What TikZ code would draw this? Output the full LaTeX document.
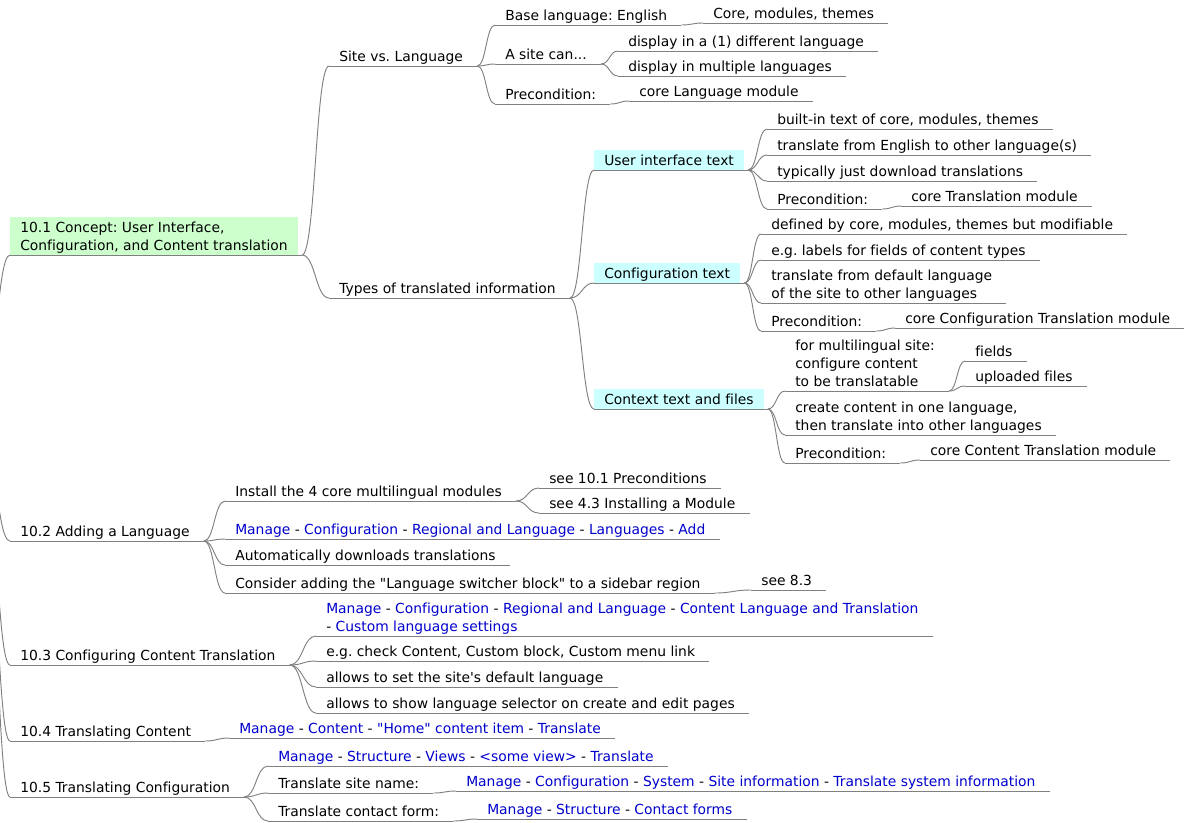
\documentclass[tikz,border=0pt]{standalone}
\usepackage{fontspec}
\setmainfont{DejaVu Sans}[Ligatures=NoCommon]
\frenchspacing
\usetikzlibrary{calc}
\definecolor{linkgray}{RGB}{128,128,128}
\definecolor{conceptgreen}{RGB}{204,255,204}
\definecolor{typecyan}{RGB}{204,255,255}
\definecolor{navblue}{RGB}{0,0,204}
\newcommand{\navlink}[1]{\textcolor{navblue}{#1}}
\tikzset{x=0.75pt, y=-0.75pt, % one unit = one pixel of the mind map
         topic/.style={ % text sitting on its own underline
           anchor=south west, xshift=-7.5pt,
           inner xsep=7.5pt, inner ysep=0.7pt,
           text depth=2.3pt,
           font=\fontsize{10.4pt}{13.5pt}\selectfont},
         multi/.style={align=left, text depth=},
         concept/.style={fill=conceptgreen},
         kind/.style={fill=typecyan, text height=11pt},
         stem/.style={draw=linkgray, line width=0.7pt},
         fork/.style={to path={let \p1=([xshift=3pt]\tikztostart), \p2=(\tikztotarget) in
           (\p1) .. controls ({(\x1+\x2)/2},\y1) and ({(\x1+\x2)/2},\y2) .. (\p2)}}}

\begin{document}
\begin{tikzpicture}
\useasboundingbox (0,0) rectangle (1184,822);
\clip (0,0) rectangle (1184,822);
\coordinate (root) at (-23,420);

\begin{scope}[every node/.style={topic}]
    % 10.1
    \node[concept, multi] (n101) at (20,255) {\rule{0pt}{11pt}10.1 Concept: User Interface,\\Configuration, and Content translation};
    \node (sitelang) at (339,66) {Site vs. Language};
    \node (types) at (339,298) {Types of translated information};
    \node (base) at (505,25) {Base language: English};
    \node (core) at (713,23) {Core, modules, themes};
    \node (sitecan) at (505,64) {A site can...};
    \node (disp1) at (628,51) {display in a (1) different language};
    \node (disp2) at (628,76) {display in multiple languages};
    \node (precond1) at (505,104) {Precondition:};
    \node (langmod) at (639,101) {core Language module};
    \node[kind] (ui) at (604,170) {User interface text};
    \node (ui1) at (777,129) {built-in text of core, modules, themes};
    \node (ui2) at (777,155) {translate from English to other language(s)};
    \node (ui3) at (777,181) {typically just download translations};
    \node (ui4) at (777,209) {Precondition:};
    \node (ui4a) at (911,206) {core Translation module};
    \node[kind] (cfg) at (604,283) {Configuration text};
    \node (cfg1) at (771,234) {defined by core, modules, themes but modifiable};
    \node (cfg2) at (771,260) {e.g. labels for fields of content types};
    \node[multi] (cfg3) at (771,303) {translate from default language\\of the site to other languages};
    \node (cfg4) at (771,331) {Precondition:};
    \node (cfg4a) at (905,328) {core Configuration Translation module};
    \node[kind] (ctx) at (604,409) {Context text and files};
    \node[multi] (ctx1) at (795,391) {for multilingual site:\\configure content\\to be translatable\vphantom{g}};
    \node (fields) at (975,361) {fields};
    \node (upl) at (975,386) {uploaded files};
    \node[multi] (ctx2) at (795,435) {create content in one language,\\then translate into other languages};
    \node (ctx3) at (795,463) {Precondition:};
    \node (ctx3a) at (930,460) {core Content Translation module};
    % 10.2
    \node (n102) at (20,541) {10.2 Adding a Language};
    \node (inst) at (235,501) {Install the 4 core multilingual modules};
    \node (see101) at (549,488) {see 10.1 Preconditions};
    \node (see43) at (549,513) {see 4.3 Installing a Module};
    \node (manage1) at (235,539) {\navlink{Manage} - \navlink{Configuration} - \navlink{Regional and Language} - \navlink{Languages} - \navlink{Add}};
    \node (auto) at (235,565) {Automatically downloads translations};
    \node (consider) at (235,593) {Consider adding the \textquotedbl Language switcher block\textquotedbl{} to a sidebar region};
    \node (see83) at (761,590) {see 8.3};
    % 10.3
    \node (n103) at (20,665) {10.3 Configuring Content Translation};
    \node[multi] (manage2) at (326,636) {\navlink{Manage} - \navlink{Configuration} - \navlink{Regional and Language} - \navlink{Content Language and Translation}\\- \navlink{Custom language settings}};
    \node (eg) at (326,661) {e.g. check Content, Custom block, Custom menu link};
    \node (allow1) at (326,687) {allows to set the site\textquotesingle s default language};
    \node (allow2) at (326,713) {allows to show language selector on create and edit pages};
    % 10.4
    \node (n104) at (20,741) {10.4 Translating Content};
    \node (manage3) at (239,738) {\navlink{Manage} - \navlink{Content} - \navlink{\textquotedbl Home\textquotedbl{} content item} - \navlink{Translate}};
    % 10.5
    \node (n105) at (20,797) {10.5 Translating Configuration};
    \node (manage4) at (278,766) {\navlink{Manage} - \navlink{Structure} - \navlink{Views} - \navlink{<some view>} - \navlink{Translate}};
    \node (sitename) at (278,793) {Translate site name:};
    \node (manage5) at (466,791) {\navlink{Manage} - \navlink{Configuration} - \navlink{System} - \navlink{Site information} - \navlink{Translate system information}};
    \node (contact) at (278,821) {Translate contact form:};
    \node (manage6) at (487,819) {\navlink{Manage} - \navlink{Structure} - \navlink{Contact forms}};
\end{scope}

% underlines, a little longer on the right as in the map
\foreach \n in {n101,sitelang,types,base,core,sitecan,disp1,disp2,precond1,langmod,
                ui,ui1,ui2,ui3,ui4,ui4a,cfg,cfg1,cfg2,cfg3,cfg4,cfg4a,
                ctx,ctx1,fields,upl,ctx2,ctx3,ctx3a,
                n102,inst,see101,see43,manage1,auto,consider,see83,
                n103,manage2,eg,allow1,allow2,n104,manage3,
                n105,manage4,sitename,manage5,contact,manage6}
    \draw[stem] (\n.south west) -- ([xshift=3pt]\n.south east);

\begin{scope}[every edge/.style={stem, fork}]
    \foreach \b in {n101,n102,n103,n104,n105}
        \path (root) edge (\b.south west);
    \foreach \a/\b in {n101/sitelang, n101/types,
                       sitelang/base, sitelang/sitecan, sitelang/precond1,
                       base/core, sitecan/disp1, sitecan/disp2, precond1/langmod,
                       types/ui, types/cfg, types/ctx,
                       ui/ui1, ui/ui2, ui/ui3, ui/ui4, ui4/ui4a,
                       cfg/cfg1, cfg/cfg2, cfg/cfg3, cfg/cfg4, cfg4/cfg4a,
                       ctx/ctx1, ctx/ctx2, ctx/ctx3, ctx1/fields, ctx1/upl, ctx3/ctx3a,
                       n102/inst, n102/manage1, n102/auto, n102/consider,
                       inst/see101, inst/see43, consider/see83,
                       n103/manage2, n103/eg, n103/allow1, n103/allow2,
                       n104/manage3,
                       n105/manage4, n105/sitename, n105/contact,
                       sitename/manage5, contact/manage6}
        \path (\a.south east) edge (\b.south west);
\end{scope}
\end{tikzpicture}
\end{document}
